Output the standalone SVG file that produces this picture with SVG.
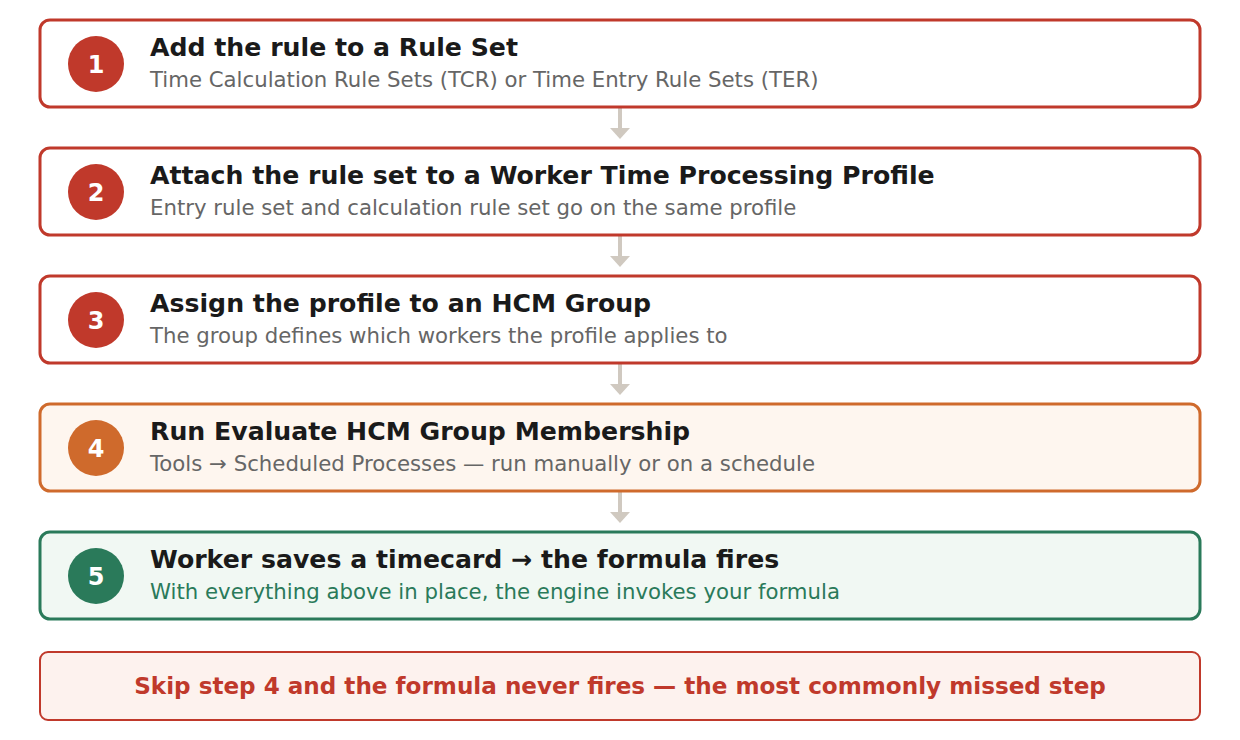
<svg xmlns="http://www.w3.org/2000/svg" width="1240" height="740" viewBox="0 0 1240 740">
<style>
.box{stroke-width:3}
.red{fill:#ffffff;stroke:#c0392b}
.org{fill:#fef6ef;stroke:#cf6a2c}
.grn{fill:#f1f8f3;stroke:#2a7a5a}
.num{font-family:"DejaVu Sans",sans-serif;font-weight:bold;font-size:24px;fill:#ffffff;text-anchor:middle}
.ttl{font-family:"DejaVu Sans",sans-serif;font-weight:bold;font-size:25.2px;fill:#1a1a1a}
.sub{font-family:"DejaVu Sans",sans-serif;font-size:21.25px;fill:#666666}
.conn{stroke:#d0c9c0;stroke-width:4}
.head{fill:#d0c9c0}
.note{font-family:"DejaVu Sans",sans-serif;font-weight:bold;font-size:23.1px;fill:#c0392b;text-anchor:middle}
</style>
<rect width="1240" height="740" fill="#ffffff"/>
<g id="connectors">
<line class="conn" x1="620" y1="108" x2="620" y2="129"/>
<polygon class="head" points="610,128 630,128 620,139"/>
<line class="conn" x1="620" y1="236" x2="620" y2="257"/>
<polygon class="head" points="610,256 630,256 620,267"/>
<line class="conn" x1="620" y1="364" x2="620" y2="385"/>
<polygon class="head" points="610,384 630,384 620,395"/>
<line class="conn" x1="620" y1="492" x2="620" y2="513"/>
<polygon class="head" points="610,512 630,512 620,523"/>
</g>
<g id="step1">
<rect class="box red" x="40" y="20" width="1160" height="87" rx="10"/>
<circle cx="96" cy="64" r="28" fill="#c0392b"/>
<text class="num" x="96" y="73">1</text>
<text class="ttl" x="150" y="56">Add the rule to a Rule Set</text>
<text class="sub" x="150" y="87">Time Calculation Rule Sets (TCR) or Time Entry Rule Sets (TER)</text>
</g>
<g id="step2">
<rect class="box red" x="40" y="148" width="1160" height="87" rx="10"/>
<circle cx="96" cy="192" r="28" fill="#c0392b"/>
<text class="num" x="96" y="201">2</text>
<text class="ttl" x="150" y="184">Attach the rule set to a Worker Time Processing Profile</text>
<text class="sub" x="150" y="215">Entry rule set and calculation rule set go on the same profile</text>
</g>
<g id="step3">
<rect class="box red" x="40" y="276" width="1160" height="87" rx="10"/>
<circle cx="96" cy="320" r="28" fill="#c0392b"/>
<text class="num" x="96" y="329">3</text>
<text class="ttl" x="150" y="312">Assign the profile to an HCM Group</text>
<text class="sub" x="150" y="343">The group defines which workers the profile applies to</text>
</g>
<g id="step4">
<rect class="box org" x="40" y="404" width="1160" height="87" rx="10"/>
<circle cx="96" cy="448" r="28" fill="#cf6a2c"/>
<text class="num" x="96" y="457">4</text>
<text class="ttl" x="150" y="440">Run Evaluate HCM Group Membership</text>
<text class="sub" x="150" y="471">Tools → Scheduled Processes — run manually or on a schedule</text>
</g>
<g id="step5">
<rect class="box grn" x="40" y="532" width="1160" height="87" rx="10"/>
<circle cx="96" cy="576" r="28" fill="#2a7a5a"/>
<text class="num" x="96" y="585">5</text>
<text class="ttl" x="150" y="568">Worker saves a timecard → the formula fires</text>
<text class="sub" x="150" y="599" style="fill:#2a7a5a">With everything above in place, the engine invokes your formula</text>
</g>
<g id="note">
<rect x="40" y="652" width="1160" height="68" rx="8" fill="#fdf2ee" stroke="#c0392b" stroke-width="2"/>
<text class="note" x="620" y="694">Skip step 4 and the formula never fires — the most commonly missed step</text>
</g>
</svg>
